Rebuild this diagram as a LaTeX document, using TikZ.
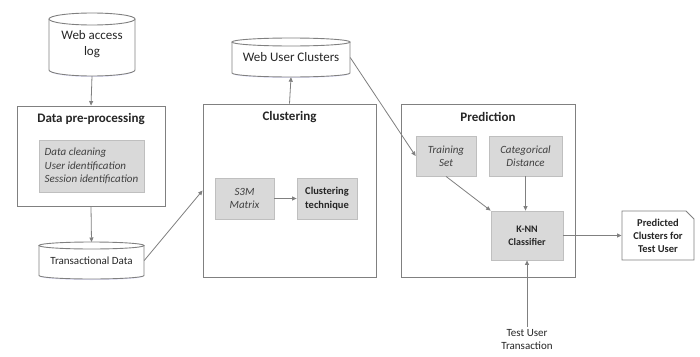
\documentclass[tikz,border=0pt]{standalone}
\usepackage{fontspec}
\setmainfont{Carlito}
\usetikzlibrary{arrows.meta,shapes.misc,shadows}

\definecolor{frameline}{HTML}{808080}
\definecolor{boxfill}{HTML}{D9D9D9}
\definecolor{boxline}{HTML}{BFBFBF}
\definecolor{ink}{HTML}{262626}
\definecolor{softink}{HTML}{404040}

% database cylinder: name, centre x, centre y, half width, half height, cap radius, text style, text
\newcommand\dbcylinder[8]{%
  \fill[blue!25,opacity=0.35] (#2-#4+1,#3+#5-#6+1) arc[start angle=180,end angle=360,x radius={(#4-1)*1pt},y radius={#6*1pt}] -- cycle;
  \draw[cylline,fill=white] (#2-#4,#3-#5+#6) -- (#2-#4,#3+#5-#6)
     arc[start angle=180,end angle=360,x radius={#4*1pt},y radius={#6*1pt}]
     -- (#2+#4,#3-#5+#6);
  \draw[cylline,fill=white] (#2,#3-#5+#6) ellipse[x radius={#4*1pt},y radius={#6*1pt}];
  \node[#7,minimum width={2*#4*1pt},minimum height={2*#5*1pt}] (#1) at (#2,#3) {#8};
  \coordinate (#1 top) at (#2,#3-#5);
}

\begin{document}
\begin{tikzpicture}[x=1pt,y=-1pt,
  cylline/.style={draw=frameline,line width=0.9pt},
  stagebox/.style={draw=frameline,line width=0.9pt,fill=white,
    drop shadow={shadow xshift=0.7pt,shadow yshift=-0.7pt,opacity=0.18}},
  greybox/.style={draw=boxline,line width=0.8pt,fill=boxfill,align=center,
    inner sep=0pt,text=softink,
    drop shadow={shadow xshift=0.7pt,shadow yshift=-0.7pt,opacity=0.18}},
  stagetitle/.style={font=\bfseries\fontsize{13}{16}\selectfont,text=ink,inner sep=0pt},
  cyltext/.style={align=center,inner sep=0pt,text=ink},
  flow/.style={draw=frameline,line width=0.8pt,-{Triangle[length=4.5pt,width=4pt]}},
  docbox/.style={chamfered rectangle,chamfered rectangle corners=north east,
    chamfered rectangle xsep=4pt,chamfered rectangle ysep=4pt,
    draw=frameline,line width=0.9pt,fill=white,align=center,inner sep=0pt,text=ink,
    font=\bfseries\fontsize{10.5}{13}\selectfont}
]
\useasboundingbox[fill=white] (0,0) rectangle (700,356);

% input log
\dbcylinder{log}{92}{44.5}{43}{31.5}{6}{cyltext,font=\fontsize{13}{16}\selectfont}{Web access\\log}

% data pre-processing stage
\node[stagebox,minimum width=148pt,minimum height=100pt] (pre) at (91,156) {};
\node[stagetitle] (pretitle) at (91,119) {Data pre-processing};
\node[greybox,minimum width=105pt,minimum height=52pt,align=left,
      font=\itshape\fontsize{11}{13.3}\selectfont] (steps) at (91.5,166)
  {Data cleaning\\User identification\\Session identification};

% transactional data store
\dbcylinder{trans}{91.5}{260.5}{52.5}{18.5}{3.5}{cyltext,font=\fontsize{11}{13}\selectfont}{Transactional Data}

% clustering stage
\node[stagebox,minimum width=173pt,minimum height=173pt] (clu) at (289.5,190.5) {};
\node[stagetitle] (clutitle) at (289.5,117) {Clustering};
\node[greybox,minimum width=59pt,minimum height=41pt,
      font=\itshape\fontsize{11}{13.3}\selectfont] (s3m) at (244.5,198.5) {S3M\\Matrix};
\node[greybox,minimum width=60pt,minimum height=41pt,text=ink,
      font=\bfseries\fontsize{10.5}{13.3}\selectfont] (tech) at (327,198.5) {Clustering\\technique};

% clusters store
\dbcylinder{wuc}{291}{57.5}{59}{19.5}{4}{cyltext,font=\fontsize{13}{16}\selectfont}{Web User Clusters}

% prediction stage
\node[stagebox,minimum width=174pt,minimum height=173pt] (pred) at (488,190.5) {};
\node[stagetitle] (predtitle) at (488,117) {Prediction};
\node[greybox,minimum width=60pt,minimum height=40pt,
      font=\itshape\fontsize{11}{13.3}\selectfont] (train) at (446,156) {Training\\Set};
\node[greybox,minimum width=73pt,minimum height=40pt,
      font=\itshape\fontsize{11}{13.3}\selectfont] (dist) at (525.5,156) {Categorical\\Distance};
\node[greybox,minimum width=72pt,minimum height=49pt,text=ink,
      font=\bfseries\fontsize{10}{13}\selectfont] (knn) at (527,235.5) {K-NN\\Classifier};

% output and test input
\node[docbox,minimum width=72pt,minimum height=49pt] (out) at (658,235.5)
  {Predicted\\Clusters for\\Test User};
\node[align=center,inner sep=2pt,text=ink,font=\fontsize{11}{13.3}\selectfont] (test) at (527,339.5)
  {Test User\\Transaction};

% connectors
\draw[flow] (log.south) -- (pre.north);
\draw[flow] (pre.south) -- (trans top);
\draw[flow] (trans.east) -- (clu.west);
\draw[flow] (s3m.east) -- (tech.west);
\draw[flow] (clu.north) -- (wuc.south);
\draw[flow] (wuc.east) -- (train.west);
\draw[flow] (train.south) -- (knn.north west);
\draw[flow] (dist.south) -- (knn.north -| dist.south);
\draw[flow] (test.north) -- (knn.south);
\draw[flow] (knn.east) -- (out.west);
\end{tikzpicture}
\end{document}
